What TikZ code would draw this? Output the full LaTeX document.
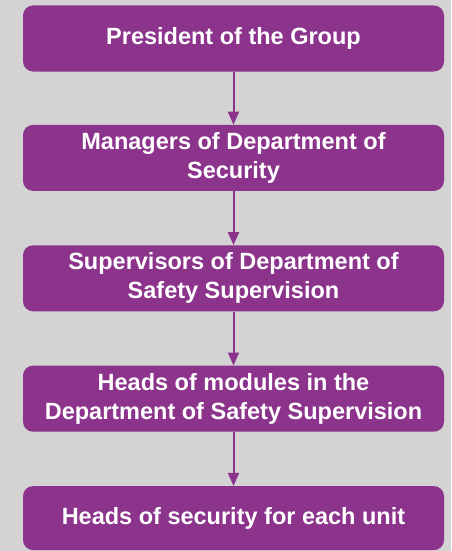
\documentclass[tikz,border=0pt]{standalone}
\usepackage{fontspec}
\setmainfont{Liberation Sans}
\usetikzlibrary{positioning,arrows.meta}

\definecolor{orgpurple}{HTML}{8C338C}
\definecolor{bggray}{HTML}{D3D3D3}
\tikzset{
	level/.style={draw=none, fill=orgpurple, rounded corners=10pt, text=white,
		minimum width=421pt, minimum height=66pt, align=center,
		font=\bfseries\fontsize{23.5}{29}\selectfont, inner sep=0pt},
	link/.style={draw=orgpurple, line width=2pt, -{Triangle[width=11pt,length=13pt]}}
}

\begin{document}
\begin{tikzpicture}[x=1pt,y=1pt]
		\fill[bggray] (0,0) rectangle (451,-551);
		\useasboundingbox (0,0) rectangle (451,-551);

		\node[level] (pres) at (233.5,-38.5) {President of the Group};
		\node[level, below=53pt of pres] (mgr) {Managers of Department of\\Security};
		\node[level, below=54pt of mgr] (sup) {Supervisors of Department of\\Safety Supervision};
		\node[level, below=54pt of sup] (mod) {Heads of modules in the\\Department of Safety Supervision};
		\node[level, below=54pt of mod, minimum height=64pt] (unit) {Heads of security for each unit};

		\draw[link] (pres) -- (mgr);
		\draw[link] (mgr) -- (sup);
		\draw[link] (sup) -- (mod);
		\draw[link] (mod) -- (unit);
	\end{tikzpicture}
\end{document}
